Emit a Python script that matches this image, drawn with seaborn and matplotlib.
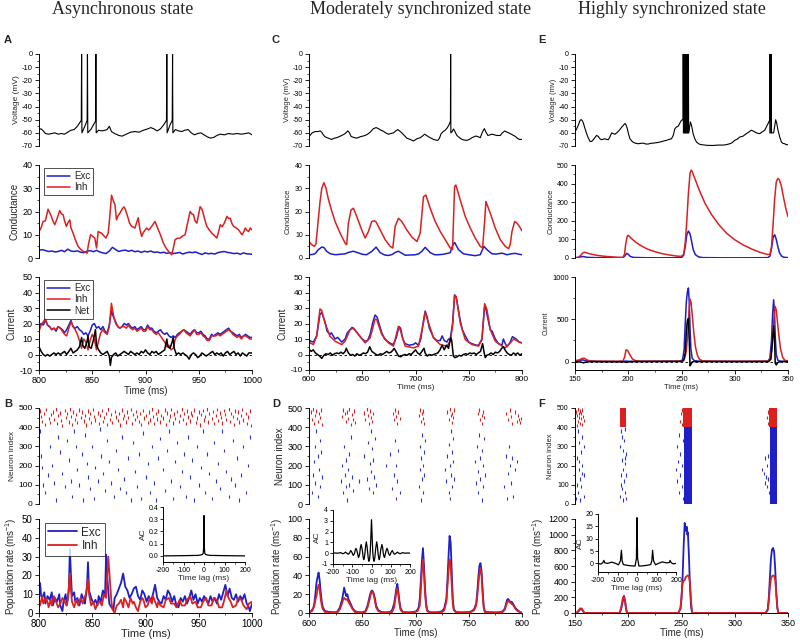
import matplotlib
matplotlib.use("Agg")
import matplotlib.pyplot as plt
from matplotlib.ticker import MultipleLocator, FormatStrFormatter
import seaborn as sns

sns.set_style("ticks", {"axes.edgecolor": "black", "xtick.color": "black", "ytick.color": "black"})
plt.rcParams['font.family'] = ['Liberation Sans', 'DejaVu Sans']
plt.rcParams['axes.unicode_minus'] = False
plt.rcParams['mathtext.default'] = 'regular'

EXC = '#1f1fc8'
INH = '#dc2020'
NET = 'black'

# ---------------- data: asynchronous state (A, B) ----------------
volt_a = [(800,-57),(802,-57),(804,-58.5),(806,-60.5),(809,-61),(812,-60.5),(815,-60),(818,-61),(821,-60.5),(824,-61),
          (827,-59.5),(830,-58),(833,-57.5),(836,-55),(839.7,-50.5),(840,0),(840.3,-60),(843,-55),(845.2,-50.5),(845.5,0),
          (845.8,-60),(849,-57),(853.1,-51),(853.4,0),(853.7,-60),(856,-58),(859,-58.5),(862,-58),(864,-57.5),(866,-55),
          (868,-59),(871,-60.5),(875,-62),(878,-62.5),(882,-61),(886,-59.5),(890,-59),(894,-59.5),(898,-58),(902,-57),
          (905,-56),(908,-57),(911,-58.5),(914,-57),(917,-54),(919.7,-50.5),(920,0),(920.3,-60),(923,-54),(925.1,-50.5),
          (925.4,0),(925.7,-60),(928,-57.5),(931,-58.5),(934,-59),(937,-58),(940,-57.5),(943,-60),(946,-61.5),(949,-60.5),
          (952,-60),(955,-61.5),(958,-63),(961,-64),(964,-63.5),(967,-62),(970,-61),(974,-61.5),(978,-60.5),(982,-61),
          (986,-60.5),(990,-61),(994,-60.5),(997,-60),(1000,-61.5)]

cond_a_inh = [(800,11.4),(802,13),(803.8,15.7),(806,16),(808.5,21),(810,19.5),(811.6,17.9),(813,16),(814.8,14.3),(817,17),
              (819.5,20.4),(821,19),(822.6,18.6),(824,16),(825.7,13.6),(827,15),(828.9,16.4),(830,13),(832,10.7),(834,8),
              (836.7,5),(839,3.8),(841.4,2.9),(845.2,2.1),(846.5,6),(848.4,10),(850,9.5),(852.4,8.6),(854,4.3),(855.6,11.4),
              (857,11),(858.7,10.7),(860,10),(862.8,8.6),(865,10.7),(866.5,18),(868.1,27),(869.5,25),(871.3,22.9),(872.8,16.4),
              (874,18),(876,19.3),(878,21),(879.7,22),(881,21),(883.8,17),(885,15),(887,13.6),(890.1,12.9),(891.5,15),
              (893.2,17.3),(894.5,13),(896.4,9.3),(898,11),(901.1,12.9),(903,12),(905.8,13.6),(908.9,15.7),(910,14.5),
              (912.1,12.1),(914,10),(916.8,6.4),(919,4.5),(921.5,2.9),(924.6,1.4),(926,4),(927.8,7.9),(930,8.5),(932.5,8.6),
              (935,9.5),(937.2,10),(939,14),(941.9,20),(943.5,19),(945.1,18.6),(946.5,16),(948.2,15),(950,19),(951.3,22.1),
              (953,21),(954.5,18.6),(956,16),(957.6,13.6),(960,12),(962.3,10.7),(965,9.5),(967,8.6),(968.5,11),(970.2,14.3),
              (972,13.5),(974,15),(976.5,17.9),(978,17),(979.6,17.1),(981,15),(982.7,13.6),(985,13),(987.4,12.1),(990.6,10),
              (992,11),(993.7,12.9),(995,12),(996.9,11.4),(998.4,12.9),(1000,12.1)]

cond_a_exc = [(800,3.3),(803,3.6),(806,3.2),(809,2.8),(812,3.0),(815,2.6),(818,2.8),(821,3.3),(824,2.7),(827,3.8),
              (830,3.0),(833,2.8),(836,3.1),(839,2.5),(842,2.3),(845,2.9),(848,3.2),(851,2.7),(854,3.3),(857,2.6),
              (860,2.2),(863,1.9),(866,3.0),(869,4.6),(872,3.6),(875,2.8),(878,3.2),(881,3.4),(884,2.9),(887,3.3),
              (890,2.7),(893,3.0),(896,2.4),(899,2.9),(902,2.6),(905,3.0),(908,2.4),(911,2.6),(914,2.2),(917,2.5),
              (920,2.0),(923,2.3),(926,1.9),(929,2.1),(932,2.4),(935,1.7),(938,2.2),(941,2.5),(944,2.3),(947,2.6),
              (950,2.0),(953,1.5),(956,2.2),(959,1.8),(962,2.0),(965,1.7),(968,2.3),(971,2.6),(974,2.8),(977,2.4),
              (980,2.2),(983,1.9),(986,2.1),(989,1.6),(992,2.2),(995,1.8),(998,1.7),(1000,1.6)]

curr_a_exc = [(800,18),(802,20),(804,19),(806,22),(808,19),(810,18),(812,16),(814,17),(816,15),(818,18),(820,17),(822,16),
              (824,14),(826,16),(828,19),(830,22),(832,18),(834,17),(836,18),(838,16),(840,15),(842,13),(844,14),(846,12),
              (848,15),(850,19),(852,20),(854,17),(856,18),(858,16),(860,18),(862,15),(864,14),(866,19),(868,28),(870,24),
              (872,21),(874,18),(876,17),(878,18),(880,20),(882,19),(884,20),(886,18),(888,17),(890,18),(892,16),(894,17),
              (896,18),(898,16),(900,16),(902,19),(904,17),(906,17),(908,15),(910,14),(912,15),(914,16),(916,14),(918,13),
              (920,14),(922,12),(924,11),(926,12),(928,11),(930,13),(932,14),(934,15),(936,16),(938,15),(940,14),(942,13),
              (944,15),(946,16),(948,14),(950,14),(952,15),(954,13),(956,12),(958,10),(960,10),(962,13),(964,12),(966,13),
              (968,14),(970,13),(972,14),(974,15),(976,16),(978,17),(980,15),(982,14),(984,13),(986,12),(988,13),(990,11),
              (992,12),(994,13),(996,12),(998,11),(1000,11)]

curr_a_inh = [(800,15),(802,19),(804,21),(806,23),(808,19),(810,18),(812,16),(814,17),(816,16),(818,18),(820,17),(822,15),
              (824,13),(826,12),(828,17),(830,21),(832,18),(834,16),(836,13),(838,9),(840,4),(842,10),(844,8),(846,3),
              (848,9),(850,13),(852,10),(854,3),(856,9),(858,14),(860,16),(862,14),(864,13),(866,18),(868,33),(870,25),
              (872,20),(874,18),(876,17),(878,18),(880,18),(882,17),(884,19),(886,17),(888,16),(890,17),(892,15),(894,16),
              (896,17),(898,15),(900,15),(902,18),(904,16),(906,16),(908,14),(910,13),(912,14),(914,12),(916,10),(918,8),
              (920,5),(922,6),(924,3),(926,4),(928,10),(930,12),(932,13),(934,15),(936,16),(938,14),(940,13),(942,12),
              (944,14),(946,16),(948,13),(950,13),(952,14),(954,12),(956,11),(958,9),(960,9),(962,12),(964,12),(966,12),
              (968,13),(970,12),(972,13),(974,14),(976,15),(978,16),(980,15),(982,13),(984,12),(986,11),(988,12),(990,10),
              (992,12),(994,12),(996,11),(998,10),(1000,10)]

curr_a_net = [(800,5),(802,2),(804,0),(806,-1),(808,0),(810,-1),(812,0),(814,1),(816,0),(818,1),(820,0),(822,1),(824,2),
              (826,0),(828,2),(830,4),(832,1),(834,2),(836,3),(838,5),(840,11),(841,6),(843,4),(845,8),(846,12),(847,5),
              (849,4),(851,9),(853,16),(854,6),(856,3),(858,1),(860,0),(862,1),(864,2),(866,-1),(867,-7),(868,-2),(870,0),
              (872,1),(874,-1),(876,0),(878,1),(880,2),(882,1),(884,0),(886,2),(888,1),(890,0),(892,1),(894,0),(896,2),
              (898,1),(900,3),(902,1),(904,0),(906,2),(908,1),(910,2),(912,0),(914,1),(916,2),(918,3),(920,10),(921,5),
              (923,4),(925,8),(926,11),(927,4),(929,0),(931,1),(933,0),(935,1),(937,0),(939,-1),(941,-3),(943,0),(945,1),
              (947,0),(949,-2),(951,-1),(953,1),(955,0),(957,-1),(959,0),(961,1),(963,2),(965,0),(967,1),(969,0),(971,1),
              (973,-1),(975,1),(977,2),(979,0),(981,1),(983,2),(985,0),(987,1),(989,-1),(991,1),(993,0),(995,-1),(997,1),
              (1000,1)]

rate_a_exc = [(800,12),(801,16),(802,9),(803,8),(805,11),(806,5),(808,9),(810,7),(812,11),(813,4),(815,8),(817,6),(819,10),
              (820,4),(822,1),(823,6),(825,10),(826,4),(828,12),(829,34),(830,20),(831,9),(833,11),(834,6),(836,8),(838,4),
              (840,10),(842,7),(843,5),(845,13),(846,27),(847,12),(849,8),(851,5),(853,7),(855,4),(856,9),(858,6),(860,12),
              (862,9),(863,31),(864,20),(866,5),(868,3),(870,2),(871,8),(873,10),(875,13),(877,16),(879,21),(881,14),(883,12),
              (885,8),(887,10),(889,13),(891,14),(893,9),(895,7),(897,12),(899,10),(901,6),(903,9),(905,6),(907,10),(909,15),
              (911,8),(913,6),(915,5),(917,9),(919,7),(921,12),(923,10),(925,6),(927,9),(929,4),(931,3),(933,8),(935,6),
              (937,9),(939,5),(941,8),(943,12),(945,7),(947,10),(949,5),(951,8),(953,6),(955,9),(957,7),(959,5),(961,9),
              (963,6),(965,8),(967,5),(969,10),(971,7),(973,11),(975,15),(977,9),(979,13),(981,8),(983,7),(985,10),(987,6),
              (989,9),(991,7),(993,10),(995,5),(997,3),(998,1),(1000,5)]

rate_a_inh = [(800,7),(801,4),(803,9),(804,5),(806,8),(808,6),(809,3),(811,7),(812,4),(814,9),(816,6),(818,3),(820,5),
              (822,8),(824,6),(826,4),(827,7),(829,21),(830,12),(831,6),(833,3),(835,7),(837,4),(839,8),(841,5),(842,7),
              (844,10),(846,18),(847,10),(849,4),(851,6),(853,2),(855,5),(857,6),(859,4),(861,10),(863,8),(865,30),(866,22),
              (868,6),(869,2),(871,0),(873,4),(875,5),(877,7),(879,3),(880,8),(882,6),(884,3),(886,8),(888,5),(889,6),
              (891,3),(893,1),(895,6),(897,8),(898,7),(900,3),(902,4),(904,8),(906,5),(907,9),(909,6),(911,3),(912,6),
              (914,4),(917,3),(919,7),(922,8),(924,5),(927,5),(929,3),(932,7),(934,4),(937,4),(939,7),(942,9),(944,5),
              (947,6),(949,3),(952,3),(954,6),(957,8),(959,4),(962,4),(964,8),(967,7),(969,3),(972,3),(974,7),(976,12),
              (978,8),(980,6),(982,3),(985,4),(987,8),(990,7),(992,4),(995,2),(997,5),(1000,6)]

ac_a = [(-200,0),(-100,0.002),(-30,0.004),(-15,0.008),(-8,0.012),(-4,0.02),(-2,0.06),(-1,0.15),(0,0.33),
        (1,0.15),(2,0.06),(4,0.02),(8,0.012),(15,0.008),(30,0.004),(100,0.002),(200,0)]

spikes_b_exc = [(801,380),(802,250),(803,190),(804,100),(806,60),(808,150),(810,300),(812,200),(814,110),(816,20),(818,350),
                (820,270),(822,160),(824,90),(826,330),(828,230),(830,120),(831,40),(833,380),(835,300),(836,180),(838,100),
                (840,260),(841,20),(843,360),(845,210),(846,140),(848,80),(850,300),(852,30),(853,190),(855,120),(857,390),
                (858,250),(860,160),(862,70),(864,330),(866,220),(868,110),(870,40),(872,280),(874,180),(876,80),(878,350),
                (880,130),(882,60),(884,240),(886,20),(888,320),(890,170),(892,90),(894,260),(896,30),(898,370),(900,140),
                (902,210),(904,60),(906,300),(908,110),(910,20),(912,240),(914,340),(916,180),(918,70),(920,280),(922,380),
                (924,120),(926,30),(928,220),(930,320),(932,90),(934,170),(936,260),(938,40),(940,350),(942,140),(944,230),
                (946,20),(948,300),(950,100),(952,190),(954,380),(956,60),(958,260),(960,160),(962,30),(964,320),(966,120),
                (968,210),(970,80),(972,380),(974,280),(976,170),(978,40),(980,130),(982,330),(984,100),(986,240),(988,20),
                (990,150),(992,300),(994,60),(996,200),(998,350)]

spikes_b_inh = [(801,485),(802,455),(803,430),(805,470),(806,415),(807,492),(809,445),(810,425),(811,465),(813,480),(814,440),
                (816,495),(817,420),(818,460),(820,475),(821,435),(822,410),(824,488),(825,450),(826,470),(828,428),(829,495),
                (830,455),(831,415),(832,480),(834,440),(835,465),(836,425),(838,490),(839,450),(840,478),(842,432),(843,460),
                (844,412),(846,485),(847,445),(848,470),(849,425),(851,492),(852,455),(853,438),(855,475),(856,418),(857,462),
                (859,487),(860,430),(861,450),(863,472),(864,415),(865,495),(867,440),(868,465),(869,425),(871,483),(872,452),
                (874,435),(875,470),(876,412),(878,490),(879,445),(880,460),(882,428),(883,478),(884,450),(886,493),(887,420),
                (888,467),(890,440),(891,482),(892,455),(894,430),(895,472),(896,415),(898,488),(899,447),(900,462),(902,425),
                (903,480),(904,438),(906,495),(907,455),(908,418),(910,470),(911,442),(912,485),(914,428),(915,462),(916,448),
                (918,490),(919,415),(920,475),(922,435),(923,458),(924,492),(926,422),(927,468),(928,445),(930,482),(931,430),
                (932,460),(934,495),(935,440),(936,470),(938,418),(939,485),(940,452),(942,432),(943,475),(944,462),(946,490),
                (947,425),(948,448),(950,478),(951,412),(952,465),(954,488),(955,438),(956,455),(958,495),(959,428),(960,470),
                (962,445),(963,482),(964,418),(966,460),(967,492),(968,435),(970,475),(971,450),(972,422),(974,488),(975,465),
                (976,440),(978,495),(979,430),(980,470),(982,455),(983,415),(984,485),(986,445),(987,478),(988,428),(990,462),
                (991,492),(992,438),(994,472),(995,420),(996,452),(998,485),(999,410)]

# ---------------- data: moderately synchronized state (C, D) ----------------
volt_c = [(600,-62),(600.9,-62),(603,-60),(605.6,-59),(608.8,-59),(610.5,-58.5),(611.9,-59.5),(613,-61),(615,-63),(618,-64),
          (621.3,-65),(624,-64),(626,-63.7),(628,-63),(630.7,-62),(633.9,-60.6),(636.4,-58.5),(638,-60),(639.5,-62.7),
          (642,-63.5),(644.8,-64),(648,-63),(652.7,-62),(655,-61),(657.4,-59.5),(660.5,-56.8),(663,-56),(665.2,-56.8),
          (667.5,-58),(669.9,-58.8),(672,-60),(674.6,-61),(677,-60.5),(679.3,-60),(681.5,-58.5),(683.4,-57.5),(685,-58.5),
          (687.1,-60),(689.5,-62),(691.8,-64),(695,-65),(698.1,-66.2),(701.3,-64.5),(704.4,-63.7),(706.5,-62.5),(708.5,-61),
          (710.5,-62),(712.2,-63),(714.5,-64),(716.9,-65),(719,-65.5),(721,-65.7),(722.5,-64),(724.1,-60.6),(726,-59),
          (727.9,-58),(730,-56),(732,-53),(732.8,-51),(733,0),(733.2,-60),(734.5,-59),(735.7,-57),(737.3,-59.5),(738.9,-62),
          (741,-63.5),(743.6,-65),(746,-65.5),(748.3,-65.7),(750.5,-65),(753,-63.7),(756.7,-62.4),(759,-63),(760.8,-63.7),
          (762.5,-60),(764.6,-56.8),(766.5,-60),(768,-62),(770,-61.5),(771.8,-61),(774,-61.5),(776.5,-62),(779.6,-62),
          (781.5,-60),(783.7,-58.6),(786,-59.5),(789,-60.6),(791,-61.5),(793.7,-62.7),(795.5,-64),(797.5,-65),(800,-65)]

cond_c_inh = [(600,7.1),(602.5,5.7),(605,5),(606.5,6),(607.5,10.7),(610.3,24),(612,30),(614,32.4),(616,30),(618.2,25.3),
              (621.3,20.3),(624.5,15.7),(629.2,10.7),(633.9,6.4),(635.4,5.7),(637,15),(639.5,20.7),(641.7,21.4),(644.8,17.9),
              (649.5,12.1),(652.7,8.6),(655.8,11.4),(658.9,15.7),(661.5,16),(663,15.5),(666.8,12.1),(671.5,7.9),(676.2,5),
              (678.7,4.3),(680.9,13.6),(684,17.1),(687.1,15.7),(691.8,12.1),(696.6,9),(701.3,7.1),(704.4,10.7),(707.5,26.4),
              (709.7,27.1),(713.8,21.4),(718.5,15.7),(723.2,11.4),(727.9,7.9),(732.6,4.3),(734.8,3.6),(736.7,30.7),
              (737.9,31.4),(742,25),(746.7,17.9),(751.4,12.9),(756.1,8.6),(760.8,5),(763,4.3),(764.9,15.7),(766.1,24.3),
              (770.2,19.3),(774.9,12.9),(779.6,7.9),(784.3,5),(787.5,4),(789,6),(790.6,11.4),(793.1,15.7),(795.3,15),
              (797.5,13.6),(800,11.7)]

cond_c_exc = [(600,1.4),(603,1.5),(605.6,1.8),(608.8,3.6),(612,4.7),(614,4.5),(616.6,2.9),(620,1.8),(625,1.4),(629.2,1.6),
              (634,1.8),(637,2.4),(641.7,2.9),(646.4,2.2),(650,1.6),(654,1.4),(658.9,2.8),(663,4.7),(666.8,2.3),(671,1.3),
              (674.6,1.1),(678,1.5),(681,2.4),(684,2.9),(687,2.1),(690.3,1.2),(695,1.3),(699.7,1.4),(703,1.8),(706,2.9),
              (709.1,4.6),(713.8,2.3),(718,1.4),(721.6,1.4),(726,1.6),(730,2.0),(732.6,2.3),(735,5.5),(736.7,6.7),(740.4,3.6),
              (745,1.8),(750,1.4),(756,1.0),(760.8,1.4),(764.2,5),(767.1,3.6),(771.8,1.8),(776,1.7),(781.2,2.1),(785.9,1.4),
              (790,1.8),(793.7,2.0),(797.5,1.6),(800,1.4)]

curr_c_inh = [(600,7.9),(604.1,6.4),(607.2,11.8),(610.3,29.4),(611.9,28.5),(615,20.4),(619.7,11.8),(624.5,8.6),(630.7,6.4),
              (633.9,8.6),(638.6,16),(641.7,17.1),(646.4,12.9),(652.7,7.5),(657.4,10.7),(662.1,22.9),(663.6,22.5),(668.3,12.9),
              (674.6,7.5),(679.3,5.4),(684,18.2),(685.6,16),(690.3,5.4),(698.1,4.3),(702.8,5.4),(707.5,20.4),(709.1,27.2),
              (712.2,20.4),(716.9,10.7),(723.2,6.4),(729.5,5.4),(732.6,8.6),(734.8,18.2),(736.7,37.9),(738.2,37.5),(742,20.4),
              (746.7,9.6),(753,6.4),(759.2,5.4),(762.4,9.6),(764.9,32.8),(767.1,28.9),(770.2,16),(774.9,8.6),(781.2,5.4),
              (784.3,4.3),(789,7.5),(792.2,10),(794.4,9.2),(797.5,7.9),(800,7.5)]

curr_c_exc = [(600,9.5),(602,8.5),(604.1,8),(607.2,12),(609,20),(610.3,26),(612,27),(615,21),(617,15),(619.7,13),(621,14),
              (624.5,10),(627,11),(630.7,8),(633.9,10),(636,14),(638.6,16),(640.5,17.5),(643,16),(646.4,13),(650,10),
              (652.7,8.5),(655,9),(657.4,13),(660,21),(662.1,25.5),(664,24),(668.3,14),(671,10),(674.6,8),(677,7),(679.3,6.5),
              (682,11),(684.5,18),(686,17),(688,10),(690.3,7),(694,6),(698.1,6.5),(700,7.5),(702.8,6),(705,10),(707.5,22),
              (709.1,28),(711,24),(713,17),(716.9,11),(720,9),(723.2,9),(725,12),(727,9),(729.5,8),(731,10),(732.6,10),
              (734.8,20),(736.7,38.5),(738.2,37),(742,22),(744,16),(746.7,12),(750,8),(753,7),(757,6),(759.2,6),(762.4,10),
              (764.9,31),(766,30),(767.1,26),(770.2,16),(772,15),(774.9,10),(778,7),(781.2,6),(782.5,10),(784.3,7),(786,5),
              (789,8),(791,11.5),(792.2,11),(794.4,10),(797.5,8),(800,7.5)]

curr_c_net = [(600,3.5),(602,2),(604,3),(606,1),(608,0),(610,-1),(612,-2.5),(614,-0.5),(616,0.5),(618,0),(620,1),(622,-0.5),
              (624,0.5),(626,1),(628,0.5),(630,1.5),(632,0.5),(634,2),(635,4),(637,1),(639,-0.5),(641,0),(643,-1),(645,0.5),
              (647,-0.5),(649,0),(651,1),(653,0.5),(655,1.5),(657,5),(659,2),(661,1),(663,0),(665,-0.5),(667,0.5),(669,0),
              (671,1),(673,2),(675,1),(677,1.5),(679,3),(680,4),(682,1.5),(684,-1),(686,-1.5),(688,-0.5),(690,0),(692,-0.5),
              (694,0.5),(696,0),(698,1.5),(700,3),(702,1),(704,0),(706,2),(708,4),(709,1),(711,-1),(713,0),(715,-0.5),(717,0),
              (719,0.5),(721,1),(723,3),(725,6),(727,3),(729,6),(731,4),(733,11),(734,9),(735.5,-1),(737,-2),(739,-1.5),
              (741,-0.5),(743,-1),(745,0),(747,0.5),(749,0),(751,1),(753,0.5),(755,1),(757,0),(759,1),(761,2),(763,7),
              (764.5,1),(765.5,-2),(767,-0.5),(769,0),(771,1),(773,0),(775,1.5),(777,1),(779,2),(781,4),(782.5,5),(784,3),
              (786,1),(788,0),(790,-0.5),(792,1),(794,0),(796,1),(798,-0.5),(800,0.5)]

rate_d_exc = [(600,1),(602,2),(604,5),(605,10),(606,20),(607,32),(608,38),(609,43),(610,35),(611,22),(612,12),(613,6),(615,2),
              (620,1),(625,0.5),(627,2),(629,6),(631,14),(632,20),(633,27),(634,22),(635,18),(636,20),(637,15),(639,10),(641,5),
              (643,2),(646,1),(650,0.5),(653,2),(655,8),(657,18),(658,22),(659,24),(660,23),(661,20),(662,15),(663,8),(665,3),
              (668,1),(672,0.5),(676,1),(678,3),(680,10),(681,18),(682,26),(683,31),(684,22),(685,12),(686,5),(688,1),(693,0.5),
              (698,1),(701,2),(703,6),(704,15),(705,35),(706,55),(707,69),(708,50),(709,25),(710,10),(711,3),(713,1),(718,0.5),
              (722,1),(725,2),(727,5),(729,15),(730,35),(731,60),(732,82),(733,75),(734,45),(735,15),(736,4),(738,1),(745,0.5),
              (750,1),(753,2),(755,4),(757,10),(758,22),(759,38),(760,50),(761,53),(762,45),(763,25),(764,8),(765,2),(767,1),
              (775,0.5),(780,1),(782,2),(784,5),(785,10),(786,14),(787,15),(788,13),(789,12),(790,12),(791,11),(792,9),
              (793,7),(794,5),(796,3),(798,1),(800,0)]

rate_d_inh = [(600,0.5),(603,2),(605,8),(606,14),(607,18),(608,25),(609,30),(610,25),(611,15),(612,8),(613,4),(615,1),
              (620,0.5),(627,1),(629,4),(631,10),(632,14),(633,16),(634,15),(635,14),(636,15),(637,12),(639,8),(641,4),(643,1),
              (650,0.5),(653,1),(655,6),(657,15),(658,20),(659,23),(660,22),(661,18),(662,12),(663,6),(665,2),(668,0.5),
              (678,1),(680,6),(681,14),(682,22),(683,26),(684,18),(685,9),(686,3),(688,1),(698,0.5),(702,2),(704,8),(705,25),
              (706,45),(707,57),(708,40),(709,20),(710,7),(711,2),(713,0.5),(725,1),(727,3),(729,12),(730,28),(731,45),
              (732,57),(733,50),(734,30),(735,10),(736,3),(738,0.5),(752,1),(755,3),(757,8),(758,18),(759,30),(760,42),
              (761,48),(762,40),(763,20),(764,6),(765,1),(775,0.5),(782,1),(784,4),(785,8),(786,11),(787,13),(788,12),
              (789,11),(790,10),(791,9),(792,8),(793,6),(794,4),(796,2),(798,1),(800,0.5)]

ac_d = [(-200,0),(-190,0.02),(-175,0),(-160,0.05),(-149,-0.05),(-142,0),(-135,0.1),(-128,0),(-121,-0.1),(-115,0),(-112,0.1),
        (-108,0.25),(-104,0.15),(-101,0.05),(-98,-0.1),(-94.5,-0.2),(-91,-0.1),(-88,0),(-85,0.25),(-81,0.45),(-77,0.3),
        (-74,0.1),(-71,-0.15),(-67.5,-0.4),(-64,-0.25),(-61,0),(-58,0.5),(-54,0.8),(-50,0.5),(-47,0.2),(-44,-0.3),
        (-40.5,-0.6),(-37,-0.4),(-34,0),(-31,0.6),(-27,1.05),(-23,0.6),(-20,0.1),(-17,-0.45),(-13.5,-0.75),(-10,-0.55),
        (-7,0),(-4,1.2),(0,3.1),(4,1.2),(7,0),(10,-0.55),(13.5,-0.75),(17,-0.45),(20,0.1),(23,0.6),(27,1.05),(31,0.6),
        (34,0),(37,-0.4),(40.5,-0.6),(44,-0.3),(47,0.2),(50,0.5),(54,0.8),(58,0.5),(61,0),(64,-0.25),(67.5,-0.4),
        (71,-0.15),(74,0.1),(77,0.3),(81,0.45),(85,0.25),(88,0),(91,-0.1),(94.5,-0.2),(98,-0.1),(101,0.05),(104,0.15),
        (108,0.25),(112,0.1),(115,0),(121,-0.1),(128,0),(135,0.1),(142,0),(149,-0.05),(160,0.05),(175,0),(190,0.02),(200,0)]

spikes_d_exc = [(603,60),(604,150),(605,220),(606,300),(606,110),(607,380),(608,250),(608,40),(609,180),(610,330),(610,90),
                (611,270),(612,140),(630,120),(631,200),(632,60),(633,300),(634,150),(635,90),(635,230),(636,20),(637,180),
                (638,260),(638,100),(639,350),(640,140),(641,70),(647,120),(652,250),(654,130),(655,320),(656,80),(657,210),
                (658,170),(658,380),(659,290),(660,60),(660,230),(661,140),(662,340),(663,100),(672,200),(676,260),(678,80),
                (680,150),(681,330),(682,30),(682,200),(683,120),(684,280),(685,60),(703,90),(704,180),(704,300),(705,20),
                (705,240),(706,130),(706,360),(707,60),(707,200),(708,270),(708,150),(709,330),(728,180),(729,120),(730,250),
                (731,60),(731,310),(732,200),(732,30),(733,150),(733,380),(734,90),(734,270),(735,220),(735,340),(736,130),
                (756,220),(757,110),(758,300),(759,170),(759,60),(760,360),(761,240),(761,130),(762,20),(762,280),(763,200),
                (763,90),(764,340),(765,150),(783,90),(785,250),(786,30),(787,160),(788,300),(789,200),(790,110),(791,240),
                (792,40),(793,180),(795,220)]

spikes_d_inh = [(602,480),(603,440),(604,495),(605,420),(606,460),(607,485),(608,430),(609,470),(610,450),(611,490),(612,415),
                (631,455),(632,490),(634,470),(635,430),(636,480),(637,445),(638,495),(639,415),(640,465),(641,440),(642,485),
                (643,425),(652,475),(653,440),(654,495),(655,460),(656,420),(657,485),(658,450),(659,430),(660,470),(679,470),
                (680,440),(681,490),(682,455),(683,420),(684,480),(685,445),(703,460),(704,490),(705,430),(706,470),(707,445),
                (707,485),(708,420),(730,480),(731,440),(732,495),(733,460),(734,425),(734,470),(735,450),(736,490),(759,470),
                (760,490),(761,440),(762,460),(762,420),(763,480),(764,450),(785,470),(787,440),(789,490),(790,455),(791,420),
                (793,480),(795,430),(796,460),(797,440),(798,425),(799,445)]

# ---------------- data: highly synchronized state (E, F) ----------------
volt_e = [(150,-59.3),(151.5,-57),(153.1,-54.2),(154.5,-51),(155.6,-49.9),(156.7,-50.5),(157.8,-52.4),(159.3,-56.5),
          (160.9,-60.6),(162.5,-64),(164.1,-66.5),(165.7,-66.5),(167.2,-65.2),(168.8,-63.5),(170.3,-61.9),(171.9,-62.8),
          (173.4,-64.5),(175,-65.2),(176.5,-64.8),(178.1,-64.5),(179.7,-65),(181.3,-65.2),(182.8,-63),(184.4,-60.1),
          (186,-60.5),(187.5,-61.1),(189.5,-59.8),(191.6,-58),(194,-55.5),(196.9,-52.9),(198,-54),(199.1,-56.8),
          (200.3,-61),(201.6,-64.5),(204,-66.8),(206.3,-67.8),(209.4,-68.3),(211.5,-68),(214.1,-67.8),(216.5,-68.5),
          (218.8,-68.5),(221,-68),(223.4,-67.8),(226.5,-67.5),(229.7,-67),(232.8,-66.3),(235.9,-65.7),(238.3,-65),
          (240.6,-64.5),(242.2,-62),(243.8,-56.8),(245.3,-55.5),(246.9,-55),(248.5,-52.5),(250,-50.4),(251.5,-50),
          (251.6,0),(251.8,-60),(252.7,-60),(252.8,0),(253,-60),(253.9,-60),(254,0),(254.2,-60),(255.2,-60),(255.3,0),
          (255.5,-60),(256.4,-60),(256.5,0),(256.7,-60),(257.5,-56),(258.4,-51.7),(259.6,-55),(260.9,-60.6),(262.5,-64.5),
          (264.1,-67),(266.5,-68.5),(268.8,-69),(274,-69.5),(279.7,-69.6),(284,-69.3),(289.1,-69.3),(292,-69),(295.3,-68.3),
          (297.5,-67.5),(300,-65.7),(302.3,-64.8),(304.7,-63.2),(307.8,-62.5),(310.9,-60.6),(313,-59.5),(315.6,-58),
          (317,-58.5),(318.8,-59.3),(321,-60.2),(323.4,-60.6),(325.5,-59.5),(328.1,-58),(329.7,-55.5),(331.3,-52.9),
          (332.7,-50.5),(332.8,0),(333,-60),(334.2,-60),(334.3,0),(334.5,-60),(336.5,-60),(337.5,-55),(338.4,-50),
          (339.5,-53),(340.6,-58),(342.2,-63),(343.8,-67),(345.3,-68),(346.9,-68.3),(348.5,-69),(350,-69)]

cond_e_inh = [(150,0),(153,3),(155,12),(157,25),(158.5,31),(160,29),(163,24),(166,20),(170,15),(175,11),(180,8),(185,6),
              (190,4),(195,3),(196.5,20),(197.5,70),(199,118),(200,122),(203,105),(207,85),(212,66),(218,48),(225,34),
              (232,23),(240,15),(246,10),(250,9),(252,20),(253.5,80),(255,200),(256.5,350),(258,455),(259,472),(260,465),
              (263,420),(267,360),(272,295),(278,235),(285,180),(292,135),(300,98),(308,70),(316,48),(324,30),(330,20),
              (333,18),(334.5,60),(336,180),(337.5,320),(339,410),(340.5,428),(342,420),(344,380),(346,320),(348,265),(350,222)]

cond_e_exc = [(150,2),(154,4),(156,7),(158,8),(160,5),(163,3),(170,2),(180,1.5),(190,1.5),(195,2),(197,12),(198.5,25),
              (200,20),(202,8),(205,3),(215,1.5),(230,1),(245,1.5),(250,2),(252,15),(253.5,60),(255,125),(256.5,145),
              (258,130),(259.5,90),(261,45),(263,18),(266,6),(270,2),(290,1),(310,1),(325,1.5),(331,2),(333,10),(334.5,50),
              (336,110),(337.5,125),(339,100),(340.5,60),(342,28),(344,10),(346,4),(350,2)]

curr_e_inh = [(150,10),(154,20),(157,38),(159,38),(161,20),(164,8),(170,4),(180,3),(190,3),(195,5),(196.5,50),(198,140),
              (199.5,130),(201.5,80),(204,30),(207,10),(212,4),(230,3),(248,4),(251,10),(253,40),(254.5,120),(256,350),
              (257,600),(258,740),(259,700),(260,560),(261.5,350),(263,180),(265,70),(267,25),(270,8),(280,4),(300,3),
              (320,3),(331,5),(333,30),(334.5,120),(336,350),(337,560),(338,650),(339,610),(340,480),(341.5,300),(343,150),
              (345,50),(347,15),(350,5)]

curr_e_exc = [(150,5),(154,12),(157,20),(160,10),(164,3),(170,1),(190,1),(196,3),(198,6),(200,3),(205,1),(248,2),(251,20),
              (252.5,150),(253.5,450),(254.5,700),(255.5,820),(256.5,870),(257.3,700),(258,400),(258.8,150),(260,40),
              (262,10),(266,3),(300,1),(331,2),(333,40),(334.5,250),(335.5,550),(336.5,730),(337.3,600),(338,300),(339,80),
              (340.5,15),(343,3),(350,1)]

curr_e_net = [(150,0),(155,-5),(158,-15),(161,-5),(165,0),(196,-3),(198,-10),(200,-5),(203,0),(250,2),(252,10),(253.5,100),
              (254.5,350),(255.5,480),(256.5,510),(257.3,250),(258,-50),(259,-30),(260,-5),(262,0),(332,0),(334,30),
              (335.5,250),(336.5,420),(337.3,300),(338,-20),(339,-40),(340.5,-10),(343,0),(350,0)]

rate_f_exc = [(150,0),(152,5),(153.5,25),(155,50),(156.5,45),(158,15),(159,0),(192,0),(193.5,60),(195,160),(196,220),
              (197,150),(198,40),(199,0),(247,0),(249,50),(250,180),(251,450),(252,850),(253,1150),(254,1050),(255,1100),
              (255.5,1000),(256,1030),(257,720),(258,320),(259,80),(260,0),(329,0),(331,50),(332,200),(333,450),(334,700),
              (335,810),(336,830),(337,780),(338,560),(339,250),(340,60),(341,0),(350,0)]

rate_f_inh = [(150,0),(152,8),(153.5,35),(155,60),(156.5,55),(158,20),(159,0),(192,0),(193.5,80),(195,200),(196,205),
              (197,160),(198,50),(199,0),(247,0),(249,60),(250,220),(251,380),(252,410),(253,420),(254,460),(255,470),
              (256,480),(257,470),(258,380),(259,150),(260,0),(329,0),(331,40),(332,150),(333,330),(334,440),(335,470),
              (336,480),(337,475),(338,420),(339,250),(340,70),(341,0),(350,0)]

ac_f = [(-200,0),(-185,-0.3),(-175,0.3),(-170,1.2),(-165,0.2),(-150,0),(-130,0.5),(-110,0),(-95,-0.6),(-85,1),(-80,5.3),
        (-76,1),(-70,-0.5),(-50,-0.8),(-30,-1),(-10,-1.1),(-3,2),(0,18.5),(3,2),(10,-1.1),(30,-1),(50,-0.8),(70,-0.5),
        (76,1),(80,5.3),(85,1),(95,-0.6),(110,0),(130,0.6),(150,0.2),(165,0.3),(170,1.2),(175,0.3),(185,-0.2),(200,0)]

# dense firing blocks in F: (start, end, lowest index, highest index, population)
blocks_f = [(192.5,198,400,500,'inh'),(252,260,0,400,'exc'),(251,260,400,500,'inh'),
            (333,340,0,400,'exc'),(332,340,400,500,'inh')]

spikes_f_exc = [(151,30),(152,100),(152,240),(153,60),(153,380),(154,180),(154,320),(155,130),(155,20),(156,270),(156,90),
                (157,200),(157,350),(158,150),(158,40),(158,300),(153.5,220),(156.5,160),(192,40),(192.5,300),(193,150),
                (193,380),(194,80),(194,230),(194.5,350),(195,20),(195,180),(195.5,280),(196,120),(196,330),(196.5,60),
                (197,210),(197,390),(197.5,150),(198,260),(198,30),(193.5,100),(196.5,240),(245,180),(246,120),(246,300),
                (247,220),(248,60),(248,360),(249,150),(249,260),(250,200),(250,90),(251,330),(251,30),(326,180),(327,160),
                (328,110),(328,240),(329,140),(330,200),(330,90),(331,250),(331,130),(332,60)]

spikes_f_inh = [(150,440),(151,480),(151.5,410),(152,460),(152.5,495),(153,430),(153.5,470),(154,450),(154.5,420),(155,485),
                (155.5,445),(156,470),(156.5,415),(157,490),(157.5,455),(158,435),(249,430),(249.5,470),(250,490),(250,415),
                (330,450),(331,480),(331.5,420)]


def xy(pairs):
    return [p[0] for p in pairs], [p[1] for p in pairs]


fig = plt.figure(figsize=(8, 6.4), dpi=100)


def add_ax(x0, x1, ytop, ybot):
    return fig.add_axes([x0 / 800, 1 - ybot / 640, (x1 - x0) / 800, (ybot - ytop) / 640])


def style(ax, fs, xaxis=True):
    sns.despine(ax=ax, top=True, right=True, bottom=not xaxis)
    for s in ax.spines.values():
        s.set_linewidth(0.7)
    ax.tick_params(which='major', direction='out', length=3, width=0.6, labelsize=fs, pad=1.5)
    ax.tick_params(which='minor', direction='out', length=1.7, width=0.5)
    if not xaxis:
        ax.tick_params(axis='x', which='both', bottom=False, labelbottom=False)
    ax.set_facecolor('none')


def line(ax, pairs, color, lw=1.0, label=None):
    t, v = xy(pairs)
    sns.lineplot(x=t, y=v, color=color, linewidth=lw, estimator=None, sort=False,
                 legend=False, label=label, ax=ax)


def raster(ax, pairs, color, half=9):
    t, v = xy(pairs)
    ax.vlines(t, [i - half for i in v], [i + half for i in v], color=color, linewidth=0.8)


def leg(ax, fs):
    lg = ax.legend(loc='upper left', bbox_to_anchor=(0.0, 1.02), fontsize=fs, frameon=True, fancybox=False,
                   edgecolor='black', handlelength=2.4, handletextpad=0.4, borderpad=0.3, labelspacing=0.15)
    lg.get_frame().set_linewidth(0.6)


cols = [
    dict(x0=39, x1=252, xlim=(800, 1000), volt=volt_a, cinh=cond_a_inh, cexc=cond_a_exc, cmax=40, cstep=10,
         iexc=curr_a_exc, iinh=curr_a_inh, inet=curr_a_net, ilim=(-10, 50), istep=10,
         rexc=rate_a_exc, rinh=rate_a_inh, rmax=50, rstep=10, sexc=spikes_b_exc, sinh=spikes_b_inh,
         ac=ac_a, aclim=(-0.05, 0.4), acstep=0.1, acfmt='%.1f', acbox=(163, 245, 507, 562),
         vlab='Voltage (mV)', fs=dict(v=5.5, vl=6, c=6.5, cl=7, i=6.5, il=7, t=7, r=6, rl=6, p=7, pl=7, pt=8),
         legends=True, title='Asynchronous state', tx=123, letters=('A', 'B'), lx=4),
    dict(x0=309, x1=522, xlim=(600, 800), volt=volt_c, cinh=cond_c_inh, cexc=cond_c_exc, cmax=40, cstep=10,
         iexc=curr_c_exc, iinh=curr_c_inh, inet=curr_c_net, ilim=(-10, 50), istep=10,
         rexc=rate_d_exc, rinh=rate_d_inh, rmax=100, rstep=20, sexc=spikes_d_exc, sinh=spikes_d_inh,
         ac=ac_d, aclim=(-1, 4), acstep=1, acfmt='%d', acbox=(333, 410, 510, 564),
         vlab='Voltage (mV)', fs=dict(v=5, vl=5.5, c=5, cl=5.5, i=6, il=7, t=6, r=6.5, rl=7, p=6.5, pl=7, pt=7),
         legends=False, title='Moderately synchronized state', tx=421, letters=('C', 'D'), lx=272),
    dict(x0=575, x1=788, xlim=(150, 350), volt=volt_e, cinh=cond_e_inh, cexc=cond_e_exc, cmax=500, cstep=100,
         iexc=curr_e_exc, iinh=curr_e_inh, inet=curr_e_net, ilim=(-100, 1000), istep=500,
         rexc=rate_f_exc, rinh=rate_f_inh, rmax=1200, rstep=200, sexc=spikes_f_exc, sinh=spikes_f_inh,
         ac=ac_f, aclim=(-3.5, 20), acstep=5, acfmt='%d', acbox=(598, 676, 514, 572),
         vlab='Voltage (mv)', fs=dict(v=5, vl=5.5, c=5, cl=5.5, i=5.5, il=5, t=5.5, r=5, rl=5.5, p=6.5, pl=7, pt=7),
         legends=False, title='Highly synchronized state', tx=672, letters=('E', 'F'), lx=538),
]

for c in cols:
    fs = c['fs']
    x0, x1 = c['x0'], c['x1']

    # voltage
    ax = add_ax(x0, x1, 54, 146)
    line(ax, c['volt'], 'black', lw=0.8)
    ax.set_xlim(*c['xlim'])
    ax.set_ylim(-70, 0)
    ax.yaxis.set_major_locator(MultipleLocator(10))
    ax.yaxis.set_minor_locator(MultipleLocator(5))
    style(ax, fs['v'], xaxis=False)
    ax.set_ylabel(c['vlab'], fontsize=fs['vl'], labelpad=1)

    # conductance
    ax = add_ax(x0, x1, 165, 258)
    line(ax, c['cexc'], EXC, lw=1.1, label='Exc')
    line(ax, c['cinh'], INH, lw=1.1, label='Inh')
    ax.set_xlim(*c['xlim'])
    ax.set_ylim(0, c['cmax'])
    ax.yaxis.set_major_locator(MultipleLocator(c['cstep']))
    ax.yaxis.set_minor_locator(MultipleLocator(c['cstep'] / 2))
    style(ax, fs['c'], xaxis=False)
    ax.set_ylabel('Conductance', fontsize=fs['cl'], labelpad=2)
    if c['legends']:
        leg(ax, 7)

    # current
    ax = add_ax(x0, x1, 277, 370)
    line(ax, c['iexc'], EXC, lw=1.1, label='Exc')
    line(ax, c['iinh'], INH, lw=1.1, label='Inh')
    line(ax, c['inet'], NET, lw=1.1, label='Net')
    ax.axhline(0, color='black', lw=0.6, ls=(0, (3, 3)), zorder=0)
    ax.set_xlim(*c['xlim'])
    ax.set_ylim(*c['ilim'])
    ax.yaxis.set_major_locator(MultipleLocator(c['istep']))
    ax.yaxis.set_minor_locator(MultipleLocator(c['istep'] / 2))
    ax.xaxis.set_major_locator(MultipleLocator(50))
    ax.xaxis.set_minor_locator(MultipleLocator(25))
    style(ax, fs['i'])
    ax.set_ylabel('Current', fontsize=fs['il'], labelpad=2)
    ax.set_xlabel('Time (ms)', fontsize=fs['t'], labelpad=0.5)
    if c['legends']:
        leg(ax, 7)

    # raster
    ax = add_ax(x0, x1, 408, 504)
    if c is cols[2]:
        for t0, t1, lo, hi, pop in blocks_f:
            ax.fill_between([t0, t1], lo, hi, color=EXC if pop == 'exc' else INH, linewidth=0)
    raster(ax, c['sexc'], '#2b35d0')
    raster(ax, c['sinh'], INH)
    ax.set_xlim(*c['xlim'])
    ax.set_ylim(0, 500)
    ax.yaxis.set_major_locator(MultipleLocator(100))
    ax.yaxis.set_minor_locator(MultipleLocator(50))
    style(ax, fs['r'], xaxis=False)
    ax.set_ylabel('Neuron index', fontsize=fs['rl'], labelpad=2)

    # population rate
    ax = add_ax(x0, x1, 519, 613)
    line(ax, c['rexc'], EXC, lw=1.3, label='Exc')
    line(ax, c['rinh'], INH, lw=1.3, label='Inh')
    ax.set_xlim(*c['xlim'])
    ax.set_ylim(0, c['rmax'])
    ax.yaxis.set_major_locator(MultipleLocator(c['rstep']))
    ax.yaxis.set_minor_locator(MultipleLocator(c['rstep'] / 2))
    ax.xaxis.set_major_locator(MultipleLocator(50))
    ax.xaxis.set_minor_locator(MultipleLocator(25))
    style(ax, fs['p'])
    ax.set_ylabel('Population rate (ms$^{-1}$)', fontsize=fs['pl'], labelpad=2)
    ax.set_xlabel('Time (ms)', fontsize=fs['pt'], labelpad=0)
    if c['legends']:
        leg(ax, 8.5)

    # autocorrelation inset
    bx0, bx1, by0, by1 = c['acbox']
    ax = add_ax(bx0, bx1, by0, by1)
    line(ax, c['ac'], 'black', lw=0.9)
    ax.set_xlim(-200, 200)
    ax.set_ylim(*c['aclim'])
    ax.xaxis.set_major_locator(MultipleLocator(100))
    ax.xaxis.set_minor_locator(MultipleLocator(50))
    ax.yaxis.set_major_locator(MultipleLocator(c['acstep']))
    ax.yaxis.set_major_formatter(FormatStrFormatter(c['acfmt']))
    style(ax, 5)
    ax.tick_params(length=2)
    ax.set_xlabel('Time lag (ms)', fontsize=6, labelpad=0.5)
    ax.set_ylabel('AC', fontsize=6, labelpad=1)

    # column title and panel letters
    fig.text(c['tx'] / 800, 1 - 10 / 640, c['title'], ha='center', va='center',
             fontsize=13, family=['Liberation Serif', 'DejaVu Serif'])
    fig.text(c['lx'] / 800, 1 - 40 / 640, c['letters'][0], ha='left', va='center', fontsize=8, weight='bold')
    fig.text(c['lx'] / 800, 1 - 404 / 640, c['letters'][1], ha='left', va='center', fontsize=8, weight='bold')

fig.savefig('out.png', dpi=100)
